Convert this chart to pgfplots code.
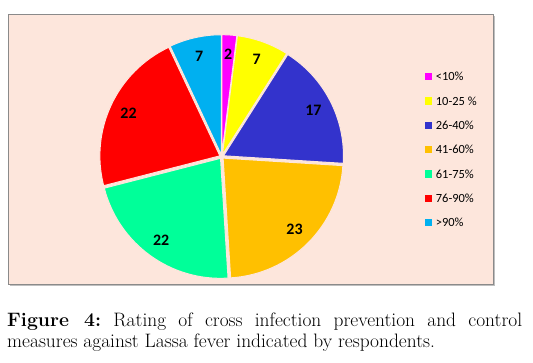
\documentclass[border=0pt]{standalone}
\usepackage{pgfplots}
\pgfplotsset{compat=1.18}
\usepackage{pgfplotstable}
\usepackage{fontspec}
\newfontfamily\calibri{Carlito}
\definecolor{bg}{HTML}{FDE6DC}
\definecolor{frame}{HTML}{8A8A8A}
\definecolor{cMag}{HTML}{FF00FF}
\definecolor{cYel}{HTML}{FFFF00}
\definecolor{cBlu}{HTML}{3333CC}
\definecolor{cOra}{HTML}{FFC000}
\definecolor{cGre}{HTML}{00FF99}
\definecolor{cRed}{HTML}{FF0000}
\definecolor{cCya}{HTML}{00B0F0}

\pgfplotstableread{
value color label
2 cMag {<10\%}
7 cYel {10-25~\%}
17 cBlu {26-40\%}
23 cOra {41-60\%}
22 cGre {61-75\%}
22 cRed {76-90\%}
7 cCya {>90\%}
}\piedata

\begin{document}
\frenchspacing
\begin{tikzpicture}
\path[use as bounding box] (0,0) rectangle (533bp,363bp);
\begin{axis}[
  at={(0,0)}, anchor=origin,
  x=1bp, y=1bp,
  xmin=0, xmax=533, ymin=0, ymax=363,
  enlargelimits=false,
  hide axis, clip=false,
]
% frame
\fill[black!25] (axis cs:9.5,76.5) rectangle (axis cs:494.5,346.5);
\draw[fill=bg, draw=frame, line width=1bp] (axis cs:8,78) rectangle (axis cs:493,348);
\pgfplotsextra{
  \gdef\cum{0}%
  \foreach \i in {0,...,6}{%
    \pgfplotstablegetelem{\i}{value}\of\piedata \let\v\pgfplotsretval
    \pgfplotstablegetelem{\i}{color}\of\piedata \let\clr\pgfplotsretval
    \pgfplotstablegetelem{\i}{label}\of\piedata \let\lab\pgfplotsretval
    \pgfmathsetmacro\a{90-3.6*\cum}%
    \pgfmathsetmacro\b{90-3.6*(\cum+\v)}%
    \pgfmathsetmacro\m{(\a+\b)/2}%
    \fill[fill=\clr, draw=bg, line width=1bp, shift={(\m:2bp)}]
      (axis cs:221.7,206.3) -- ++(\a:120bp) arc[start angle=\a, end angle=\b, radius=120bp] -- cycle;
    \path (axis cs:221.7,206.3) ++(\m:103bp) node[inner sep=0pt,
      font=\calibri\bfseries\fontsize{16}{16}\selectfont] {\v};
    % legend
    \pgfmathsetmacro\ly{363-(76.7+24.33*\i)}%
    \fill[\clr] (axis cs:425,\ly) ++(0,-3.65bp) rectangle ++(7.3bp,7.3bp);
    \node[anchor=base west, inner sep=0pt, font=\calibri\fontsize{12.5}{12.5}\selectfont]
      at (axis cs:435.7,\ly-4) {\lab};
    \pgfmathsetmacro\newcum{\cum+\v}%
    \xdef\cum{\newcum}%
  }%
}
% caption
\node[anchor=base west, inner sep=0pt, font=\fontsize{19.5}{22}\selectfont]
  at (axis cs:7,36.3) {\makebox[515bp][s]{\textbf{Figure 4:} Rating of cross infection prevention and control}};
\node[anchor=base west, inner sep=0pt, font=\fontsize{19.5}{22}\selectfont]
  at (axis cs:7,15.3) {measures against Lassa fever indicated by respondents.};
\end{axis}
\end{tikzpicture}
\end{document}
